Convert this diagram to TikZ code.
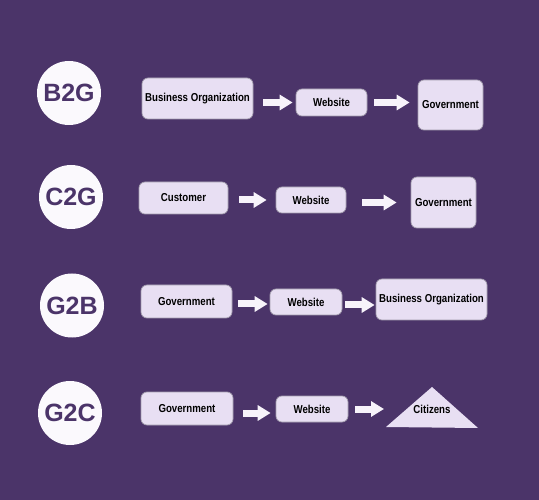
\documentclass[tikz,border=0pt]{standalone}
\usepackage{fontspec}
\setmainfont{Liberation Sans}
\newfontfamily\condfont[FakeStretch=0.84]{Liberation Sans}
\newfontfamily\circfont{Liberation Sans}
\usetikzlibrary{arrows.meta}
\definecolor{bgpurple}{HTML}{4B3469}
\definecolor{boxfill}{HTML}{E8DFF3}
\definecolor{boxline}{HTML}{A39DAD}
\definecolor{circfill}{HTML}{FBF9FD}
\definecolor{arrowwhite}{HTML}{F7F3FA}
\begin{document}
\begin{tikzpicture}[x=1pt,y=-1pt,
  boxnode/.style={draw=boxline, line width=0.7pt, fill=boxfill, rounded corners=6pt,
    inner sep=0pt, font=\condfont\bfseries\fontsize{11.5}{13}\selectfont, text=black},
  circnode/.style={circle, fill=circfill, inner sep=0pt, minimum size=64pt,
    font=\circfont\bfseries\fontsize{25}{29}\selectfont, text=bgpurple},
  bigarrow/.style={draw=arrowwhite, line width=7pt, -{Triangle[length=13pt,width=15pt]}}]
\fill[bgpurple] (0,0) rectangle (539,500);
\useasboundingbox (0,0) rectangle (539,500);
% row 1
\node[circnode] (c1) at (69,93) {B2G};
\node[boxnode, minimum width=111pt, minimum height=41pt] (bo1) at (197.5,98.5) {Business Organization};
\node[boxnode, minimum width=71pt, minimum height=27pt] (w1) at (331.5,102.5) {Website};
\node[boxnode, minimum width=65pt, minimum height=50pt] (g1) at (450.5,105) {Government};
\draw[bigarrow, shorten <=10pt, shorten >=3pt] (bo1.east |- w1.west) -- (w1.west);
\draw[bigarrow, shorten <=7pt, shorten >=8pt] (w1.east) -- (g1.west |- w1.east);
% row 2
\node[circnode] (c2) at (71,197) {C2G};
\node[boxnode, minimum width=89pt, minimum height=32pt] (cu2) at (183.5,198) {Customer};
\node[boxnode, minimum width=70pt, minimum height=26pt] (w2) at (311,200) {Website};
\node[boxnode, minimum width=65pt, minimum height=51pt] (g2) at (443.5,202.5) {Government};
\draw[bigarrow, shorten <=11pt, shorten >=9pt] (cu2.east |- w2.west) -- (w2.west);
\draw[bigarrow, shorten <=16pt, shorten >=14pt] (w2.east |- g2.west) -- (g2.west);
% row 3
\node[circnode] (c3) at (72,305.5) {G2B};
\node[boxnode, minimum width=91pt, minimum height=33pt] (gv3) at (186.5,301.5) {Government};
\node[boxnode, minimum width=72pt, minimum height=26pt] (w3) at (306,302) {Website};
\node[boxnode, minimum width=111pt, minimum height=41pt] (bo3) at (431.5,299.5) {Business Organization};
\draw[bigarrow, shorten <=6pt, shorten >=2pt] ([yshift=-2pt]gv3.east |- w3.west) -- ([yshift=-2pt]w3.west);
\draw[bigarrow, shorten <=3pt, shorten >=1pt] ([yshift=-3pt]w3.east) -- ([yshift=-3pt]bo3.west |- w3.east);
% row 4
\node[circnode] (c4) at (70,413) {G2C};
\node[boxnode, minimum width=92pt, minimum height=33pt] (gv4) at (187,408.5) {Government};
\node[boxnode, minimum width=72pt, minimum height=26pt] (w4) at (312,409) {Website};
\fill[boxfill] (386,427) -- (432,387) -- (478,428) -- cycle;
\node[font=\condfont\bfseries\fontsize{11.5}{13}\selectfont, inner sep=0pt] (ci4) at (432,409) {Citizens};
\coordinate (t4) at (386,409);
\draw[bigarrow, shorten <=10pt, shorten >=5pt] ([yshift=-4pt]gv4.east |- w4.west) -- ([yshift=-4pt]w4.west);
\draw[bigarrow, shorten <=7pt, shorten >=2pt] (w4.east) -- (t4);
\end{tikzpicture}
\end{document}
